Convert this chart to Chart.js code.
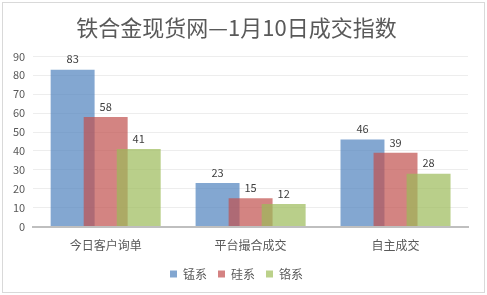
<!DOCTYPE html>
<html><head><meta charset="utf-8">
<script src="https://cdn.jsdelivr.net/npm/chart.js@4/dist/chart.umd.min.js"></script>
<style>html,body{margin:0;padding:0;background:#fff}#wrap{width:487px;height:295px;position:relative}</style>
</head><body><div id="wrap"><canvas id="c" width="487" height="295"></canvas></div>
<script>
const titleText = '铁合金现货网—1月10日成交指数';
const categories = ['今日客户询单', '平台撮合成交', '自主成交'];
const seriesNames = ['锰系', '硅系', '铬系'];
const mnValues = [83, 23, 46];
const siValues = [58, 15, 39];
const crValues = [41, 12, 28];
const yTicks = [0, 10, 20, 30, 40, 50, 60, 70, 80, 90];

const FONT = '"Noto Sans CJK SC", "Noto Sans", sans-serif';
const colors = ['rgba(79,129,189,0.7)', 'rgba(192,80,77,0.7)', 'rgba(155,187,89,0.7)'];
const legendColors = ['#82A6D0', '#D48282', '#BBD18A'];

const borderPlugin = {
  id: 'border',
  afterDraw(chart) {
    const ctx = chart.ctx;
    ctx.save();
    ctx.strokeStyle = '#D9D9D9';
    ctx.lineWidth = 1;
    ctx.strokeRect(2.5, 2.5, chart.width - 5, chart.height - 5);
    ctx.restore();
  }
};
// draw datasets in index order so later series overlap earlier ones, then value labels
const orderPlugin = {
  id: 'drawOrder',
  beforeDatasetsDraw(chart) {
    for (let i = 0; i < chart.data.datasets.length; i++) {
      const meta = chart.getDatasetMeta(i);
      if (meta.visible !== false) chart._drawDataset(meta);
    }
    const ctx = chart.ctx;
    ctx.save();
    ctx.font = '11px ' + FONT;
    ctx.fillStyle = '#404040';
    ctx.textAlign = 'center';
    ctx.textBaseline = 'bottom';
    chart.data.datasets.forEach((ds, i) => {
      chart.getDatasetMeta(i).data.forEach((bar, j) => {
        ctx.fillText(String(ds.data[j]), bar.x, bar.y - 5);
      });
    });
    ctx.restore();
    return false;
  }
};

new Chart(document.getElementById('c'), {
  type: 'bar',
  data: {
    labels: categories,
    datasets: [
      { label: seriesNames[0], data: mnValues, backgroundColor: colors[0] },
      { label: seriesNames[1], data: siValues, backgroundColor: colors[1] },
      { label: seriesNames[2], data: crValues, backgroundColor: colors[2] }
    ]
  },
  options: {
    responsive: false,
    animation: false,
    devicePixelRatio: 1,
    layout: { padding: { left: 5, right: 19, top: 6, bottom: 5 } },
    datasets: { bar: { categoryPercentage: 0.684, barPercentage: 1.33 } },
    plugins: {
      title: {
        display: true, text: titleText, color: '#595959',
        font: { family: FONT, size: 22, weight: 'normal' },
        padding: { top: 8, bottom: 16 }
      },
      legend: {
        position: 'bottom',
        labels: {
          color: '#595959', font: { family: FONT, size: 12 },
          boxWidth: 7, boxHeight: 7, padding: 11,
          generateLabels: (chart) => seriesNames.map((n, i) => ({
            text: n, fillStyle: legendColors[i], strokeStyle: legendColors[i], lineWidth: 0, datasetIndex: i, fontColor: '#595959'
          }))
        }
      },
      tooltip: { enabled: false }
    },
    scales: {
      x: {
        grid: { display: false },
        border: { color: '#BFBFBF', width: 2 },
        ticks: { color: '#595959', font: { family: FONT, size: 12 }, padding: 4 }
      },
      y: {
        min: 0, max: 90,
        afterBuildTicks: (axis) => { axis.ticks = yTicks.map(v => ({ value: v })); },
        grid: { color: '#EDEDED', drawTicks: false },
        border: { display: false },
        ticks: { color: '#595959', font: { family: FONT, size: 11 }, padding: 8 }
      }
    }
  },
  plugins: [borderPlugin, orderPlugin]
});
</script></body></html>
